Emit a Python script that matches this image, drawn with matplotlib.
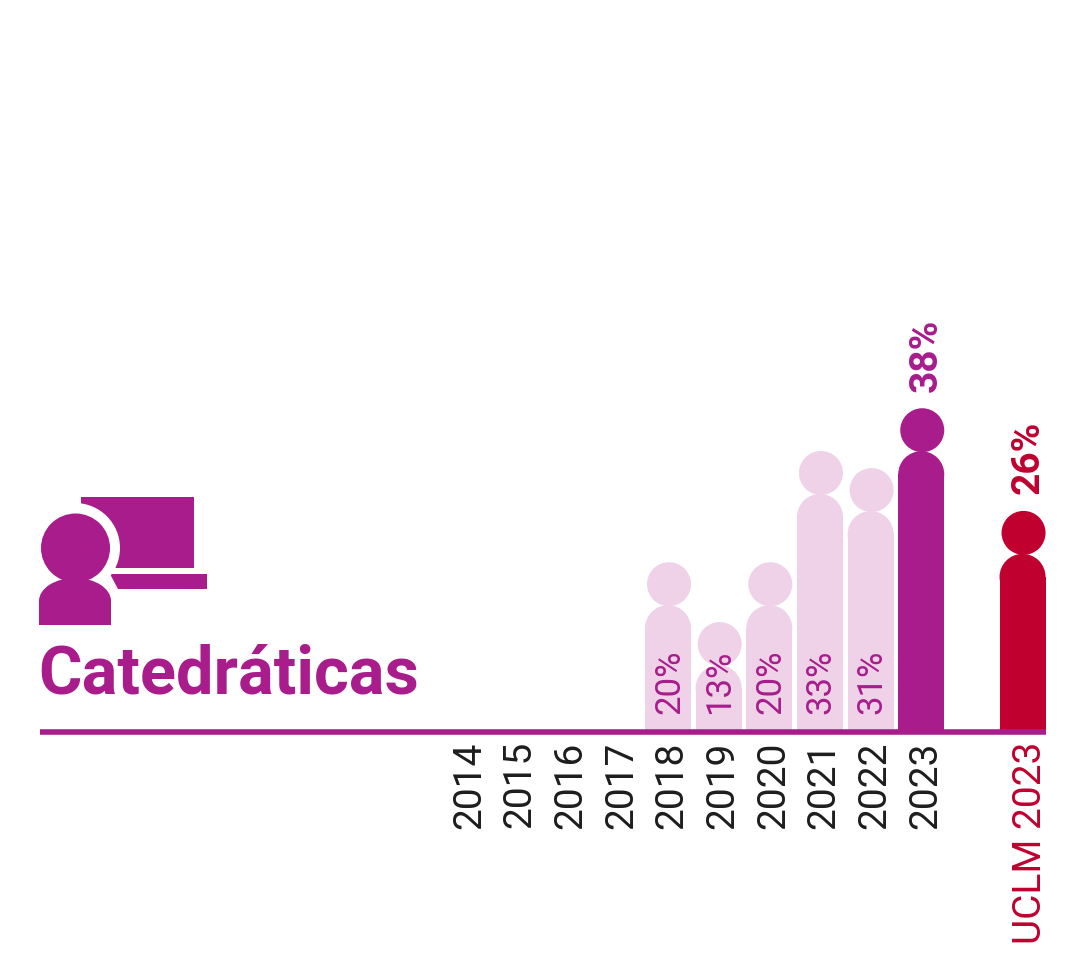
import matplotlib
matplotlib.use("Agg")
import matplotlib.pyplot as plt
from matplotlib.patches import Ellipse, Rectangle, Polygon
from matplotlib.transforms import ScaledTranslation

plt.rcParams["font.family"] = ["Roboto", "DejaVu Sans"]

years = ["2014", "2015", "2016", "2017", "2018", "2019", "2020", "2021", "2022", "2023"]
values = [None, None, None, None, 20, 13, 20, 33, 31, 38]
uclm_label = "UCLM 2023"
uclm_value = 26
title = "Catedráticas"

PURPLE = "#A81C8C"
LIGHT = "#EFD2E8"
RED = "#C0002F"
DARK = "#1D1D1D"

W, H = 1070, 957
PX_X = 50.65  # px per category
PX_Y = 8.56   # px per percent


def draw_person(ax, x, value, color):
    # head top sits at the value, body hangs below it
    head_h = 44 / PX_Y
    body_top = value - 43 / PX_Y
    r_y = 23 / PX_Y
    w = 46 / PX_X
    ax.add_patch(Rectangle((x - w / 2, 0), w, body_top - r_y, fc=color, ec="none", lw=0))
    ax.add_patch(Ellipse((x, body_top - r_y), w, 2 * r_y, fc=color, ec="none", lw=0))
    ax.add_patch(Ellipse((x + 1 / PX_X, value - head_h / 2), 44 / PX_X, head_h, fc=color, ec="none", lw=0))


def plot_chart():
    fig = plt.figure(figsize=(W / 100, H / 100), dpi=100, facecolor="white")

    # pixel overlay for the icon and the title
    bg = fig.add_axes([0, 0, 1, 1])
    bg.set_xlim(0, W)
    bg.set_ylim(H, 0)
    bg.axis("off")

    bg.add_patch(Rectangle((80.5, 497), 113.5, 71, fc=PURPLE, ec="none"))
    bg.add_patch(Polygon([(110, 574), (207, 574), (207, 589), (118, 589)], fc=PURPLE, ec="none"))
    bg.add_patch(Ellipse((75, 548), 90, 90, fc="white", ec="none"))
    bg.add_patch(Rectangle((39, 600), 72, 24.5, fc=PURPLE, ec="none"))
    bg.add_patch(Ellipse((75, 601), 72, 46, fc=PURPLE, ec="none"))
    bg.add_patch(Ellipse((75.5, 548), 69, 69, fc=PURPLE, ec="none"))
    bg.text(38, 693, title, color=PURPLE, fontsize=48, fontweight="bold", ha="left", va="baseline")

    ax = fig.add_axes([40 / W, (H - 731.5) / H, 1006 / W, 731.5 / H])
    ax.patch.set_alpha(0)
    x0 = 465.4
    ax.set_xlim((40 - x0) / PX_X, (1046 - x0) / PX_X)
    # data zero sits at the lower edge of the base line
    ax.set_ylim(1.8 / PX_Y, 733.8 / PX_Y)

    for i, v in enumerate(values):
        if v is None:
            continue
        last = i == len(values) - 1
        draw_person(ax, i, v, PURPLE if last else LIGHT)
        if last:
            ax.annotate(f"{v}%", (i, v), xytext=(3.8, 12), textcoords="offset points", rotation=90,
                        ha="center", va="bottom", color=PURPLE, fontsize=28, fontweight="bold")
        else:
            ax.annotate(f"{v}%", (i, 19 / PX_Y), xytext=(1, 0), textcoords="offset points", rotation=90,
                        ha="center", va="bottom", color=PURPLE, fontsize=25, fontweight="normal")

    uclm_x = len(values) + 1
    draw_person(ax, uclm_x, uclm_value, RED)
    ax.annotate(f"{uclm_value}%", (uclm_x, uclm_value), xytext=(3.8, 12), textcoords="offset points", rotation=90,
                ha="center", va="bottom", color=RED, fontsize=28, fontweight="bold")

    ax.set_xticks(list(range(len(years))) + [uclm_x])
    ax.set_xticklabels(years + [uclm_label], rotation=90, fontsize=28)
    ax.tick_params(axis="x", length=0, pad=7, colors=DARK)
    labels = ax.get_xticklabels()
    for lab in labels[:-1]:
        lab.set_transform(lab.get_transform() + ScaledTranslation(3 / 72, 0, fig.dpi_scale_trans))
    labels[-1].set_transform(labels[-1].get_transform() + ScaledTranslation(5.5 / 72, 0, fig.dpi_scale_trans))
    labels[-1].set_color(RED)
    ax.set_yticks([])

    for side in ["top", "left", "right"]:
        ax.spines[side].set_visible(False)
    ax.spines["bottom"].set_color(PURPLE)
    ax.spines["bottom"].set_linewidth(4)
    ax.spines["bottom"].set_capstyle("butt")

    fig.savefig("out.png", dpi=100)


if __name__ == "__main__":
    plot_chart()
